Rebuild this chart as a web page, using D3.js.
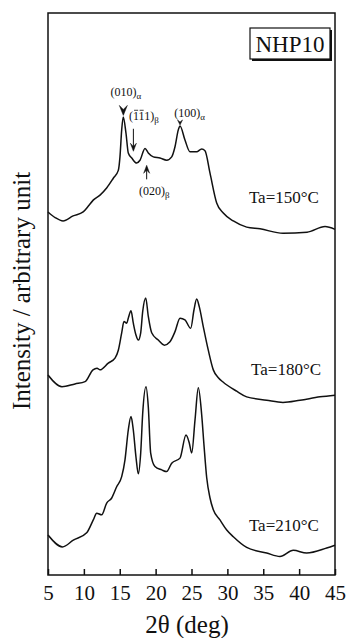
<!DOCTYPE html>
<html>
<head>
<meta charset="utf-8">
<script src="https://cdn.jsdelivr.net/npm/d3@7/dist/d3.min.js"></script>
<style>
  html, body { margin: 0; padding: 0; background: #fff; }
  svg { display: block; }
  text { font-family: "Liberation Serif", "DejaVu Serif", serif; fill: #111; }
</style>
</head>
<body>
<svg id="chart" width="349" height="638"></svg>
<script>
// 2θ tick values (deg)
const thetaTicks = [5, 10, 15, 20, 25, 30, 35, 40, 45];

// Diffraction scans, [2θ (deg), stacked intensity (arb.)]
const scan150 = [
  [5.0, 64.6], [6.0, 63.6], [7.1, 63.0], [8.5, 63.9], [9.9, 64.6], [10.6, 65.6],
  [11.3, 66.7], [12.25, 67.6], [13.2, 68.9], [14.1, 70.6], [14.8, 72.0],
  [15.03, 74.4], [15.27, 79.2], [15.49, 81.5], [15.87, 78.6], [16.19, 75.1],
  [16.67, 74.2], [17.36, 73.3], [17.82, 73.8], [18.52, 75.9], [18.98, 75.1],
  [19.68, 74.4], [20.61, 74.2], [21.54, 73.8], [22.24, 74.4], [22.70, 76.2],
  [23.16, 79.2], [23.40, 79.9], [24.09, 77.4], [24.79, 75.3], [25.72, 75.3],
  [26.42, 75.8], [26.88, 75.5], [27.58, 71.5], [28.51, 66.2], [29.43, 64.4],
  [30.83, 63.0], [32.69, 61.9], [34.55, 61.6], [37.75, 60.8], [41.10, 61.0],
  [43.61, 62.0], [45.0, 61.5]
];
const scan180 = [
  [5.0, 35.6], [6.95, 33.5], [8.76, 34.0], [10.16, 34.4], [11.27, 36.5],
  [11.83, 36.8], [12.25, 36.5], [13.40, 37.7], [14.34, 38.6], [14.80, 40.0],
  [15.27, 43.1], [15.59, 45.1], [15.97, 44.8], [16.19, 45.7], [16.57, 47.0],
  [16.89, 44.8], [17.26, 42.7], [17.59, 41.8], [17.92, 43.1], [18.20, 46.9],
  [18.62, 49.3], [18.98, 46.0], [19.45, 43.1], [20.37, 41.8], [21.21, 40.9],
  [22.00, 41.5], [22.70, 43.3], [23.40, 45.7], [24.09, 45.4], [24.89, 43.9],
  [25.35, 47.2], [25.72, 49.1], [26.09, 47.7], [26.64, 44.2], [27.34, 40.0],
  [28.04, 36.5], [28.74, 35.1], [29.43, 34.3], [31.30, 32.7], [32.69, 31.7],
  [35.48, 31.1], [37.75, 30.7], [40.12, 31.1], [42.91, 31.7], [45.0, 32.0]
];
const scan210 = [
  [5.0, 7.1], [7.02, 5.0], [8.53, 6.2], [10.39, 7.5], [11.31, 9.8], [11.79, 11.0],
  [12.48, 10.7], [13.18, 12.8], [13.88, 13.7], [14.57, 15.7], [15.27, 17.5],
  [15.73, 20.5], [16.19, 25.8], [16.57, 28.2], [16.89, 25.8], [17.26, 21.0],
  [17.59, 18.0], [17.92, 21.7], [18.20, 28.8], [18.66, 33.5], [18.98, 29.9],
  [19.31, 21.7], [19.91, 19.3], [20.85, 18.7], [21.54, 18.4], [22.24, 19.9],
  [23.40, 20.8], [24.23, 24.9], [24.69, 23.5], [25.03, 21.7], [25.49, 27.6],
  [25.95, 33.3], [26.42, 28.5], [26.74, 23.1], [27.12, 17.3], [27.58, 13.7],
  [28.04, 11.6], [28.97, 9.8], [29.91, 8.0], [30.83, 6.8], [32.69, 4.9],
  [35.48, 3.9], [37.33, 3.3], [39.19, 4.4], [41.05, 3.9], [43.84, 4.8],
  [45.0, 5.3]
];
const annealLabels = ["Ta=150°C", "Ta=180°C", "Ta=210°C"];
const sampleName = "NHP10";

const svg = d3.select("#chart");
const margin = { left: 48, right: 14, top: 13, bottom: 63 };
const W = 349, H = 638;

const x = d3.scaleLinear().domain([5, 45]).range([margin.left, W - margin.right]);
const y = d3.scaleLinear().domain([0, 100]).range([H - margin.bottom, margin.top]);

// scans
const line = d3.line().x(d => x(d[0])).y(d => y(d[1])).curve(d3.curveMonotoneX);
svg.append("g").selectAll("path")
  .data([scan150, scan180, scan210])
  .join("path")
  .attr("d", line)
  .attr("fill", "none")
  .attr("stroke", "#111")
  .attr("stroke-width", 1.5)
  .attr("stroke-linejoin", "round");

// frame
svg.append("rect")
  .attr("x", x(5)).attr("y", y(100))
  .attr("width", x(45) - x(5)).attr("height", y(0) - y(100))
  .attr("fill", "none").attr("stroke", "#111").attr("stroke-width", 1.5);

// bottom axis with inward ticks
const ax = svg.append("g")
  .attr("transform", `translate(0,${y(0)})`)
  .call(d3.axisBottom(x).tickValues(thetaTicks).tickSize(-6).tickPadding(10).tickFormat(d3.format("d")));
ax.select(".domain").remove();
ax.selectAll(".tick line").attr("stroke", "#111").attr("stroke-width", 1.5);
ax.selectAll(".tick text")
  .style("font-family", "'Liberation Serif', serif")
  .style("font-size", "21px").attr("fill", "#111");

// axis titles
svg.append("text")
  .attr("x", 187).attr("y", 633)
  .attr("text-anchor", "middle")
  .style("font-size", "25px")
  .text("2θ (deg)");
svg.append("text")
  .attr("transform", "translate(30,291) rotate(-90)")
  .attr("text-anchor", "middle")
  .style("font-size", "25px")
  .text("Intensity / arbitrary unit");

// sample name box
svg.append("rect").attr("x", 252).attr("y", 30).attr("width", 80).attr("height", 31).attr("fill", "#111");
svg.append("rect").attr("x", 250).attr("y", 28).attr("width", 80).attr("height", 31)
  .attr("fill", "#fff").attr("stroke", "#111").attr("stroke-width", 1.2);
svg.append("text").attr("x", 290).attr("y", 52).attr("text-anchor", "middle")
  .style("font-size", "23px").text(sampleName);

// annealing temperature labels
const annealAt = [[33.0, 66.2], [33.3, 35.5], [33.0, 7.8]];
svg.append("g").selectAll("text")
  .data(annealLabels)
  .join("text")
  .attr("x", (d, i) => x(annealAt[i][0]))
  .attr("y", (d, i) => y(annealAt[i][1]))
  .style("font-size", "17px")
  .text(d => d);

// reflection labels on the 150 °C scan
function hkl(xd, yd, idx, phase, over) {
  const t = svg.append("text").attr("x", x(xd)).attr("y", y(yd)).style("font-size", "12px");
  t.append("tspan").text(idx);
  t.append("tspan").attr("dy", 3).style("font-size", "9px").text(phase);
  if (over) {
    const n = t.node();
    over.forEach(ci => {
      const s = n.getStartPositionOfChar(ci);
      const e = n.getEndPositionOfChar(ci);
      svg.append("line")
        .attr("x1", s.x + 1).attr("x2", e.x - 0.5)
        .attr("y1", y(yd) - 9.5).attr("y2", y(yd) - 9.5)
        .attr("stroke", "#111").attr("stroke-width", 0.8);
    });
  }
}
hkl(13.7, 85.3, "(010)", "α");
hkl(16.3, 81.0, "(111)", "β", [1, 2]);
hkl(22.6, 81.5, "(100)", "α");
hkl(17.7, 67.6, "(020)", "β");

// arrows
function headDown(xp, tipY, w, h) {
  return `M${xp},${tipY} L${xp - w / 2},${tipY - h} L${xp},${tipY - h * 0.6} L${xp + w / 2},${tipY - h} Z`;
}
function headUp(xp, tipY, w, h) {
  return `M${xp},${tipY} L${xp - w / 2},${tipY + h} L${xp},${tipY + h * 0.6} L${xp + w / 2},${tipY + h} Z`;
}
const arrows = svg.append("g").attr("fill", "#111").attr("stroke", "#111");
// (010)α
arrows.append("path").attr("d", headDown(x(15.5), y(81.6) - 1, 8, 10)).attr("stroke-width", 0.5);
// (-1-11)β
arrows.append("line").attr("x1", x(16.9)).attr("x2", x(16.9)).attr("y1", y(79.4)).attr("y2", y(76.0)).attr("stroke-width", 1);
arrows.append("path").attr("d", headDown(x(16.9), y(75.4), 6, 8)).attr("stroke-width", 0.5);
// (100)α
arrows.append("path").attr("d", headDown(x(23.4), y(79.9) - 1, 5, 5)).attr("stroke-width", 0.5);
// (020)β
arrows.append("line").attr("x1", x(18.75)).attr("x2", x(18.75)).attr("y1", y(70.4)).attr("y2", y(72.5)).attr("stroke-width", 1);
arrows.append("path").attr("d", headUp(x(18.75), y(72.9), 6, 8)).attr("stroke-width", 0.5);
</script>
</body>
</html>
